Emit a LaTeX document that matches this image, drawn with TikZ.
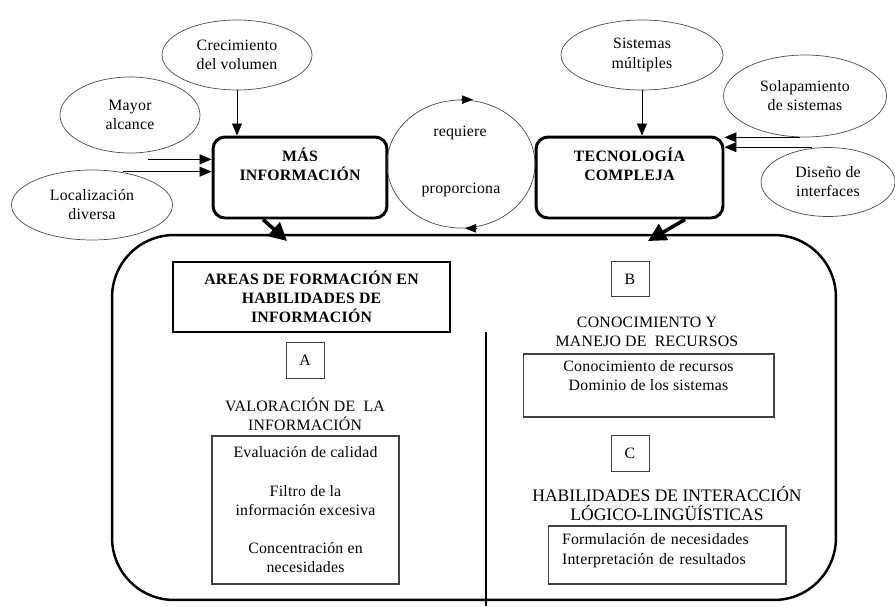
\documentclass[tikz,border=0pt]{standalone}
\usepackage{fontspec}
\setmainfont{Liberation Serif}[LetterSpace=1.5]
\newfontfamily\sinespacio{Liberation Serif}
\usetikzlibrary{positioning,shapes.geometric,arrows.meta,calc}

\begin{document}
\begin{tikzpicture}[x=0.02cm, y=-0.02cm,
	every node/.style={font=\fontsize{9}{10.9}\selectfont, align=center},
	burbuja/.style={ellipse, draw=black!70, line width=0.4pt, inner sep=0pt},
	central/.style={draw, rounded corners=0.24cm, line width=1.7pt, minimum width=#1, minimum height=1.62cm, font=\fontsize{9}{10.9}\selectfont\bfseries},
	letra/.style={draw=black!75, line width=0.5pt, minimum width=0.76cm, minimum height=0.71cm, inner sep=0pt},
	caja/.style={draw=black!75, line width=0.6pt, inner sep=2pt},
	flecha/.style={-{Triangle[length=0.24cm,width=0.2cm]}, line width=0.5pt},
	punta/.style={-{Triangle[length=0.22cm,width=0.17cm]}, line width=0.4pt},
	gruesa/.style={-{Triangle[length=0.36cm,width=0.36cm]}, line width=2pt}]
	\useasboundingbox (0,0) rectangle (895,605);

	\node[burbuja, minimum width=3cm, minimum height=1.4cm] (creci) at (237,55) {Crecimiento\\del volumen};
	\node[burbuja, minimum width=2.8cm, minimum height=1.52cm] (mayor) at (130,115) {Mayor\\alcance};
	\node[burbuja, minimum width=3.22cm, minimum height=1.4cm] (locali) at (92,205) {Localización\\diversa};
	\node[burbuja, minimum width=3.24cm, minimum height=1.4cm] (sistemas) at (642,55) {Sistemas\\múltiples};
	\node[burbuja, minimum width=3.26cm, minimum height=1.64cm] (solapa) at (805,96) {Solapamiento\\de sistemas};
	\node[burbuja, minimum width=2.68cm, minimum height=1.38cm] (diseno) at (828,182) {Diseño de\\interfaces};

	\node[central=3.48cm] (masinfo) at (300,177.5) {MÁS\\INFORMACIÓN\\[4pt]\mbox{}};
	\node[central=3.74cm] (tecno) at (629.5,177.5) {TECNOLOGÍA\\COMPLEJA\\[4pt]\mbox{}};

	\node[ellipse, draw=black!70, line width=0.4pt, minimum width=2.96cm, minimum height=2.56cm] (ciclo) at (461,164) {};
	\node (requiere) at (460,133) {requiere};
	\node (proporciona) at (461,190) {proporciona};

	\node[draw, line width=1.4pt, rounded corners=1.24cm, minimum width=14.48cm, minimum height=7.3cm] (marco) at (474,417.5) {};
	\coordinate (divA) at (486,332);
	\coordinate (divB) at (486,607);

	\node[draw, line width=0.9pt, minimum width=5.54cm, minimum height=1.4cm, font=\fontsize{9}{10.9}\selectfont\bfseries] (areas) at (311.5,297) {AREAS DE FORMACIÓN EN\\HABILIDADES DE\\INFORMACIÓN};
	\node[letra] (letraA) at (305,360.5) {A};
	\node (valtit) at (305,414) {VALORACIÓN DE\ \ LA\\INFORMACIÓN};
	\node[caja, minimum width=3.74cm, minimum height=2.96cm] (valcaja) at (305.5,510) {Evaluación de calidad\\[\baselineskip]Filtro de la\\información excesiva\\[\baselineskip]Concentración en\\necesidades};

	\node[letra] (letraB) at (630,279) {B};
	\node (contit) at (647,332) {CONOCIMIENTO Y\\MANEJO DE\ \ RECURSOS};
	\node[caja, minimum width=5.02cm, minimum height=1.26cm] (concaja) at (648.5,385.5) {Conocimiento de recursos\\Dominio de los sistemas\\\mbox{}};

	\node[letra] (letraC) at (630,453.5) {C};
	\node[font=\sinespacio\fontsize{10}{10.8}\selectfont] (habtit) at (667,503.5) {HABILIDADES DE INTERACCIÓN\\LÓGICO-LINGÜÍSTICAS};
	\node[caja, minimum width=4.76cm, minimum height=1.16cm, align=left, text width=4.2cm] (forcaja) at (667,555) {Formulación de necesidades\\Interpretación de resultados\\[-4pt]\mbox{}};

	\coordinate (salidaMayor) at ($(mayor.south)+(18,6)$);
	\coordinate (salidaLoc) at ($(locali.north)+(31,2)$);
	\coordinate (salidaSol) at ($(solapa.south)+(-5,0)$);
	\coordinate (salidaDis) at ($(diseno.north)+(-16,0)$);
	\coordinate (llegadaMas) at (287,241);
	\coordinate (llegadaTec) at (648,241);

	\draw[flecha] (creci.south) -- (creci.south |- masinfo.north);
	\draw[flecha] (salidaMayor) -- (salidaMayor -| masinfo.west);
	\draw[flecha] (salidaLoc) -- (salidaLoc -| masinfo.west);
	\draw[flecha] (sistemas.south) -- (sistemas.south |- tecno.north);
	\draw[flecha] (salidaSol) -- (salidaSol -| tecno.east);
	\draw[flecha] (salidaDis) -- (salidaDis -| tecno.east);
	\draw[punta] (ciclo.north) -- ++(12,0);
	\draw[punta] ($(ciclo.south)+(16,0)$) -- ++(-12,0);
	\draw[gruesa] ($(masinfo.south)+(-37,0)$) -- (llegadaMas);
	\draw[gruesa] ($(tecno.south)+(55.5,0)$) -- (llegadaTec);
	\draw[line width=0.6pt] (divA) -- (divB);
\end{tikzpicture}
\end{document}
